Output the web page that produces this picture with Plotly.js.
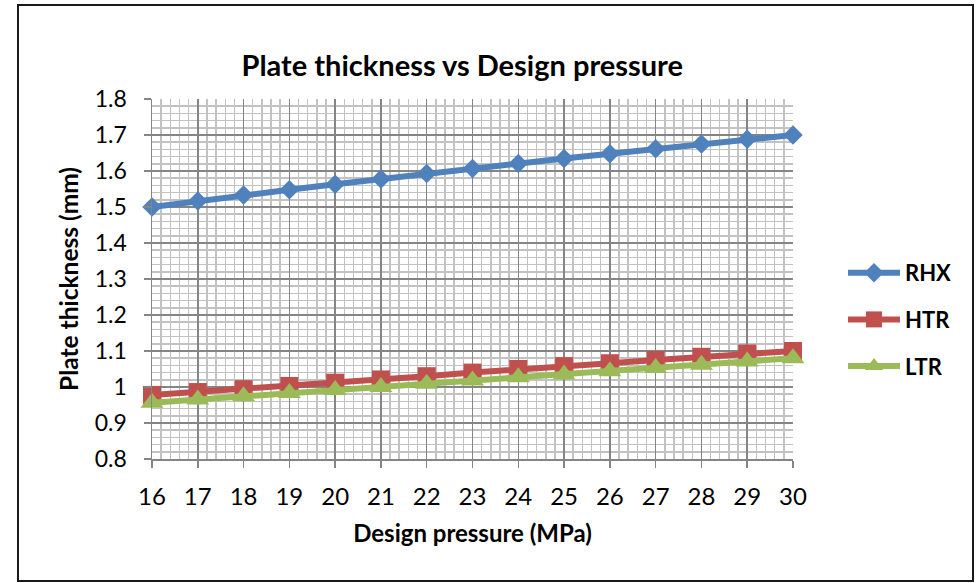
<!DOCTYPE html>
<html>
<head>
<meta charset="utf-8">
<script src="https://cdn.plot.ly/plotly-3.0.1.min.js"></script>
<style>
  html, body { margin: 0; padding: 0; background: #ffffff; }
  #chart { width: 976px; height: 583px; }
</style>
</head>
<body>
<div id="chart"></div>
<script>
// Design pressure (MPa) on the x axis
const pressure = [16, 17, 18, 19, 20, 21, 22, 23, 24, 25, 26, 27, 28, 29, 30];

// Plate thickness (mm) for each heat exchanger
const rhx = [1.50, 1.517, 1.533, 1.548, 1.563, 1.578, 1.593, 1.607, 1.621, 1.635, 1.648, 1.662, 1.675, 1.688, 1.70];
const htr = [0.978, 0.986, 0.994, 1.003, 1.012, 1.021, 1.030, 1.040, 1.050, 1.058, 1.066, 1.075, 1.084, 1.093, 1.10];
const ltr = [0.956, 0.965, 0.974, 0.983, 0.992, 1.000, 1.009, 1.018, 1.027, 1.035, 1.044, 1.053, 1.062, 1.071, 1.08];

const seriesNames = ['RHX', 'HTR', 'LTR'];
const yTickVals = [0.8, 0.9, 1, 1.1, 1.2, 1.3, 1.4, 1.5, 1.6, 1.7, 1.8];
const yTickText = ['0.8', '0.9', '1', '1.1', '1.2', '1.3', '1.4', '1.5', '1.6', '1.7', '1.8'];

const FONT = 'Lato, "Open Sans", "Liberation Sans", sans-serif';
const majorGrid = '#858585';
const minorGrid = '#c2c2c2';

function series(name, y, color, symbol, size, group) {
  return {
    x: pressure, y: y, name: '<b>' + name + '</b>', type: 'scatter', mode: 'lines+markers',
    legendgroup: group,
    line: { color: color, width: 6 },
    marker: { color: color, symbol: symbol, size: size },
    cliponaxis: false
  };
}

const traces = [
  series(seriesNames[0], rhx, '#4F81BD', 'diamond', 15, 'a'),
  series(seriesNames[1], htr, '#C0504D', 'square', 18, 'b'),
  series(seriesNames[2], ltr, '#9BBB59', 'triangle-up', 20, 'c')
];

const layout = {
  width: 976, height: 583,
  margin: { l: 152, r: 183, t: 99, b: 124 },
  paper_bgcolor: '#ffffff', plot_bgcolor: '#ffffff',
  font: { family: FONT, color: '#000000' },
  showlegend: true,
  title: {
    text: '<b>Plate thickness vs Design pressure</b>',
    font: { family: FONT, size: 29, color: '#000000' },
    xref: 'paper', x: 0.484, xanchor: 'center',
    yref: 'container', y: 1 - 66 / 583, yanchor: 'middle'
  },
  xaxis: {
    range: [16, 30], tickvals: pressure, ticktext: pressure.map(String),
    showline: true, linecolor: majorGrid, linewidth: 1.5, mirror: false,
    ticks: 'outside', ticklen: 7, tickcolor: majorGrid, tickwidth: 1.5,
    showgrid: true, gridcolor: majorGrid, gridwidth: 1.5,
    minor: { dtick: 0.2, showgrid: true, gridcolor: minorGrid, gridwidth: 1.5, ticks: '' },
    zeroline: false,
    tickfont: { family: FONT, size: 24, color: '#000000' },
    ticklabelstandoff: 9,
    title: { text: '<b>Design pressure (MPa)</b>', font: { family: FONT, size: 24, color: '#000000' }, standoff: 16 }
  },
  yaxis: {
    range: [0.8, 1.8], tickvals: yTickVals, ticktext: yTickText,
    showline: true, linecolor: majorGrid, linewidth: 1.5,
    ticks: 'outside', ticklen: 7, tickcolor: majorGrid, tickwidth: 1.5,
    showgrid: true, gridcolor: majorGrid, gridwidth: 1.5,
    minor: { dtick: 0.02, showgrid: true, gridcolor: minorGrid, gridwidth: 1.5, ticks: '' },
    zeroline: false,
    tickfont: { family: FONT, size: 23, color: '#000000' },
    ticklabelstandoff: 12,
    title: { text: '<b>Plate thickness (mm)</b>', font: { family: FONT, size: 24.5, color: '#000000' }, standoff: 9 }
  },
  legend: {
    x: (843 - 152) / 641, xanchor: 'left',
    y: (459 - 252) / 360, yanchor: 'top',
    font: { family: FONT, size: 22, color: '#000000' },
    bgcolor: 'rgba(0,0,0,0)', borderwidth: 0,
    tracegroupgap: 15, itemwidth: 52
  },
  shapes: [{
    type: 'rect', xref: 'paper', yref: 'paper',
    x0: (18 - 152) / 641, x1: (973 - 152) / 641,
    y0: (459 - 581) / 360, y1: (459 - 5) / 360,
    line: { color: '#1a1a1a', width: 2 }, fillcolor: 'rgba(0,0,0,0)', layer: 'below'
  }]
};

Plotly.newPlot('chart', traces, layout, { displayModeBar: false, staticPlot: true });
</script>
</body>
</html>
